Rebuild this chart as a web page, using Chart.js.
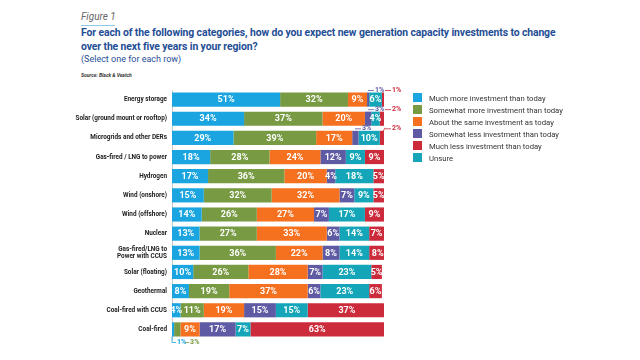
<!DOCTYPE html>
<html>
<head>
<meta charset="utf-8">
<script src="https://cdn.jsdelivr.net/npm/chart.js@4"></script>
<style>
  body { margin:0; width:640px; height:360px; background:#fff; font-family:Roboto, "Noto Sans", sans-serif; position:relative; overflow:hidden; }
  #wrap { position:absolute; left:0; top:0; width:640px; height:360px; }
  .fig { position:absolute; left:81px; top:11px; font-size:10px; font-style:italic; color:#666; }
  .fig:after { content:''; position:absolute; left:0; top:14px; width:34px; height:1px; background:#8cc8e8; }
  .title { position:absolute; left:81px; top:26px; width:485px; font-size:10.4px; font-weight:bold; color:#1f4e96; line-height:14px; letter-spacing:-0.1px; }
  .sub { position:absolute; left:81px; top:54px; font-size:9px; color:#1f4e96; }
  .src { position:absolute; left:81px; top:72px; font-size:5px; font-weight:bold; font-style:italic; color:#333; }
  #legend { position:absolute; left:413px; top:93px; font-size:7.7px; color:#333; }
  #legend div { height:12px; line-height:10px; white-space:nowrap; }
  #legend span { display:inline-block; width:9px; height:9px; margin-right:7px; vertical-align:-1px; }
</style>
</head>
<body>
<div class="fig">Figure 1</div>
<div class="title">For each of the following categories, how do you expect new generation capacity investments to change over the next five years in your region?</div>
<div class="sub">(Select one for each row)</div>
<div class="src">Source: Black &amp; Veatch</div>
<div id="wrap"><canvas id="c" width="640" height="360"></canvas></div>
<div id="legend"></div>
<script>
const categories = [
  'Energy storage', 'Solar (ground mount or rooftop)', 'Microgrids and other DERs',
  'Gas-fired / LNG to power', 'Hydrogen', 'Wind (onshore)', 'Wind (offshore)', 'Nuclear',
  ['Gas-fired/LNG to', 'Power with CCUS'], 'Solar (floating)', 'Geothermal',
  'Coal-fired with CCUS', 'Coal-fired'
];
const muchMore     = [51, 34, 29, 18, 17, 15, 14, 13, 13, 10, 8, 4, 1];
const somewhatMore = [32, 37, 39, 28, 36, 32, 26, 27, 36, 26, 19, 11, 3];
const aboutSame    = [9, 20, 17, 24, 20, 32, 27, 33, 22, 28, 37, 19, 9];
const somewhatLess = [1, 3, 3, 12, 4, 7, 7, 6, 8, 7, 6, 15, 17];
const unsure       = [6, 4, 10, 9, 18, 9, 17, 14, 14, 23, 23, 15, 7];
const muchLess     = [1, 2, 2, 9, 5, 5, 9, 7, 8, 5, 6, 37, 63];

const series = [
  { label: 'Much more investment than today', data: muchMore, color: '#1aa5e0' },
  { label: 'Somewhat more investment than today', data: somewhatMore, color: '#779a43' },
  { label: 'About the same investment as today', data: aboutSame, color: '#f5701f' },
  { label: 'Somewhat less investment than today', data: somewhatLess, color: '#5e5aa3' },
  { label: 'Unsure', data: unsure, color: '#14a6b8' },
  { label: 'Much less investment than today', data: muchLess, color: '#cc2b3b' }
];
const legendOrder = [0, 1, 2, 3, 5, 4];

const leg = document.getElementById('legend');
legendOrder.forEach(i => {
  const d = document.createElement('div');
  d.innerHTML = `<span style="background:${series[i].color}"></span>${series[i].label}`;
  leg.appendChild(d);
});

// labels inside the segments, small ones get a callout above (or below for the last row)
const labelPlugin = {
  id: 'segLabels',
  afterDatasetsDraw(chart) {
    const ctx = chart.ctx;
    const right = chart.chartArea.right;
    ctx.save();
    ctx.textBaseline = 'middle';
    chart.data.datasets.forEach((ds, di) => {
      const meta = chart.getDatasetMeta(di);
      meta.data.forEach((bar, i) => {
        const v = ds.data[i];
        const cx = (bar.x + bar.base) / 2;
        if (v >= 4) {
          ctx.font = 'bold 9px Roboto, sans-serif';
          ctx.fillStyle = '#fff';
          ctx.textAlign = 'center';
          ctx.fillText(v + '%', cx, bar.y + 0.5);
          return;
        }
        ctx.font = 'bold 7px Roboto, sans-serif';
        ctx.fillStyle = ds.borderColor;
        ctx.strokeStyle = ds.borderColor;
        ctx.lineWidth = 0.8;
        ctx.textAlign = 'left';
        const top = bar.y - bar.height / 2;
        const bot = bar.y + bar.height / 2;
        if (i === categories.length - 1) {
          const ly = bot + 6;
          const lx = di === 0 ? bar.base : bar.base + 11;
          ctx.beginPath();
          if (di === 0) { ctx.moveTo(lx, bot); ctx.lineTo(lx, ly); } else { ctx.moveTo(lx, ly); }
          ctx.lineTo(lx + 4, ly); ctx.stroke();
          ctx.fillText(v + '%', lx + 5, ly);
        } else {
          const ly = top - 2;
          let tx = di === 5 ? right + 8 : right - 9;
          if (di === 3 && i === 2) tx = right - 22;
          ctx.beginPath();
          ctx.moveTo(tx - 7, ly); ctx.lineTo(tx - 1, ly); ctx.stroke();
          if (di === 5 && i === 2) {
            ctx.beginPath(); ctx.moveTo(cx, top + 3); ctx.lineTo(tx - 7, ly - 1); ctx.stroke();
          }
          ctx.fillText(v + '%', tx, ly - (i === 2 ? 1 : 0));
        }
      });
    });
    ctx.restore();
  }
};

new Chart(document.getElementById('c'), {
  type: 'bar',
  data: {
    labels: categories,
    datasets: series.map(s => ({
      label: s.label, data: s.data, backgroundColor: s.color, borderColor: s.color,
      borderWidth: 0, barPercentage: 0.74, categoryPercentage: 1
    }))
  },
  options: {
    indexAxis: 'y',
    responsive: false,
    animation: false,
    layout: { padding: { top: 90, bottom: 21, left: 0, right: 256 } },
    plugins: { legend: { display: false }, tooltip: { enabled: false } },
    scales: {
      x: { stacked: true, min: 0, max: 100, display: false },
      y: {
        stacked: true,
        afterFit: s => { s.width = 172; },
        grid: { display: false, drawTicks: false },
        border: { display: true, color: '#ccc' },
        ticks: {
          padding: 5, color: '#222',
          font: { family: '"Liberation Sans Narrow", "Roboto", sans-serif', size: 6.4, weight: 'bold', lineHeight: 1.15 }
        }
      }
    }
  },
  plugins: [labelPlugin]
});
</script>
</body>
</html>
